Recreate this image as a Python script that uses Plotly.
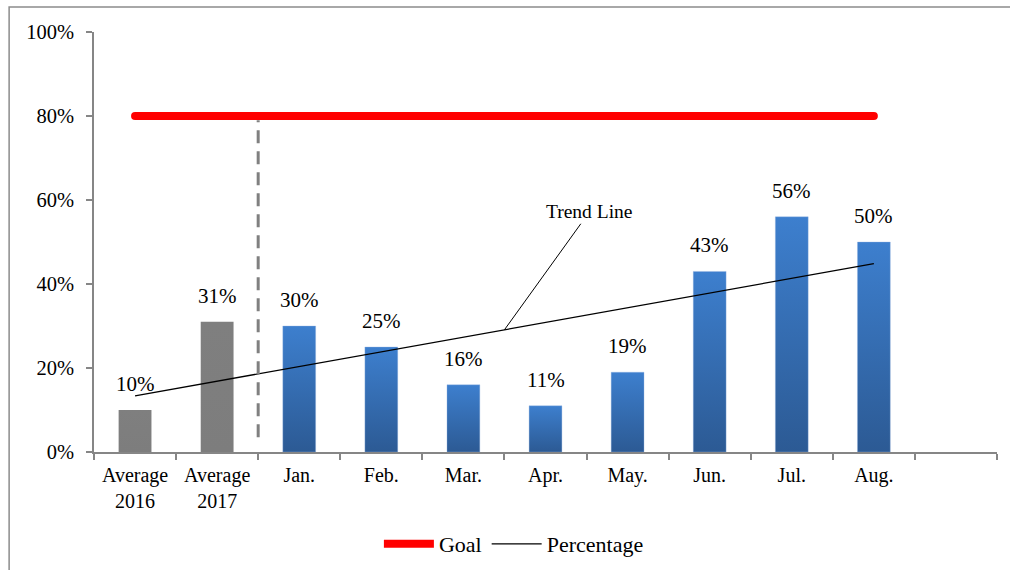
import numpy as np
import plotly.graph_objects as go

# Categories on the x axis (last slot intentionally left empty)
categories = ["Average<br>2016", "Average<br>2017", "Jan.", "Feb.", "Mar.",
              "Apr.", "May.", "Jun.", "Jul.", "Aug."]
n_slots = len(categories) + 1

# Percentages (%)
percentages = [10, 31, 30, 25, 16, 11, 19, 43, 56, 50]

# Target per category (%)
goal = [80, 80, 80, 80, 80, 80, 80, 80, 80, 80]

# Bar fills (bottom colour, top colour): yearly averages grey, months blue
bar_fills = [("#7d7d7d", "#7f7f7f")] * 2 + [("#2c5a94", "#3d7fce")] * 8

y_ticks = [0, 20, 40, 60, 80, 100]
y_tick_text = ["0%", "20%", "40%", "60%", "80%", "100%"]

FONT = "Liberation Serif"
BAR_WIDTH = 0.4
AXIS_GREY = "#868686"

idx = np.arange(len(percentages))
slot_edges = np.arange(n_slots + 1) - 0.5

# Least-squares trend of the percentages
slope, intercept = np.polyfit(idx, percentages, 1)
trend = slope * idx + intercept

fig = go.Figure()

# Bars with a vertical gradient fill
for i, (cat, v, (c_bot, c_top)) in enumerate(zip(categories, percentages, bar_fills)):
    x0, x1 = i - BAR_WIDTH / 2, i + BAR_WIDTH / 2
    fig.add_trace(go.Scatter(
        x=[x0, x1, x1, x0, x0], y=[0, 0, v, v, 0],
        mode="lines", fill="toself",
        line=dict(width=0.8, color="rgba(150,180,225,0.45)" if i >= 2 else "rgba(0,0,0,0)"),
        fillgradient=dict(type="vertical", colorscale=[[0, c_bot], [1, c_top]]),
        showlegend=False, hoverinfo="text", hovertext=f"{cat.replace('<br>', ' ')}: {v}%",
    ))

fig.add_trace(go.Scatter(
    x=idx, y=goal, mode="lines", name="Goal",
    line=dict(color="#ff0000", width=8),
))
# rounded end caps of the goal line
fig.add_trace(go.Scatter(
    x=[idx[0], idx[-1]], y=[goal[0], goal[-1]], mode="markers",
    marker=dict(color="#ff0000", size=8), showlegend=False, hoverinfo="skip",
))

fig.add_trace(go.Scatter(
    x=idx, y=trend, mode="lines", name="Percentage",
    line=dict(color="#000000", width=1.3),
))

# value labels above bars
for i, v in zip(idx, percentages):
    fig.add_annotation(
        x=i, y=v, text=f"{v}%", showarrow=False, yanchor="bottom", yshift=12,
        font=dict(family=FONT, size=21, color="#000000"),
    )

# "Trend Line" callout
mid = (len(percentages) - 1) / 2
fig.add_annotation(
    x=mid, y=slope * mid + intercept, text="Trend Line",
    showarrow=True, arrowhead=0, arrowwidth=1, arrowcolor="#000000",
    ax=85, ay=-118, standoff=0,
    font=dict(family=FONT, size=19.5, color="#000000"),
)

# separator between yearly averages and monthly values
fig.add_shape(
    type="line", xref="x", yref="y", x0=1.5, x1=1.5, y0=3.5, y1=79,
    line=dict(color="#808080", width=3, dash="13px,8px"),
)

# outer frame
fig.add_shape(
    type="rect", xref="paper", yref="paper",
    x0=-0.094, x1=1.2, y0=-0.6, y1=1.0595,
    line=dict(color="#8c8c8c", width=1.5), fillcolor="rgba(0,0,0,0)",
)

fig.update_layout(
    width=1010, height=570,
    margin=dict(l=94, r=13, t=32, b=118, autoexpand=False),
    plot_bgcolor="#ffffff", paper_bgcolor="#ffffff",
    font=dict(family=FONT, size=20, color="#000000"),
    legend=dict(
        orientation="h", x=0.465, xanchor="center", y=-0.219, yanchor="middle",
        font=dict(family=FONT, size=22, color="#000000"),
        bgcolor="rgba(0,0,0,0)", itemwidth=50, tracegroupgap=0,
    ),
    xaxis=dict(
        range=[slot_edges[0], slot_edges[-1]],
        tickmode="array", tickvals=idx, ticktext=categories, ticks="",
        minor=dict(tickmode="array", tickvals=slot_edges, ticks="outside",
                   ticklen=6, tickcolor=AXIS_GREY, tickwidth=1.5, showgrid=False),
        showline=True, linecolor=AXIS_GREY, linewidth=1.5,
        showgrid=False, zeroline=False, ticklabelstandoff=4,
        tickfont=dict(family=FONT, size=20, color="#000000"),
    ),
    yaxis=dict(
        range=[0, 100], tickmode="array", tickvals=y_ticks, ticktext=y_tick_text,
        ticks="outside", ticklen=6, tickcolor=AXIS_GREY, tickwidth=1.5,
        showline=True, linecolor=AXIS_GREY, linewidth=1.5,
        showgrid=False, zeroline=False, ticklabelstandoff=8,
        tickfont=dict(family=FONT, size=20.5, color="#000000"),
    ),
)

fig.write_html("out.html")
